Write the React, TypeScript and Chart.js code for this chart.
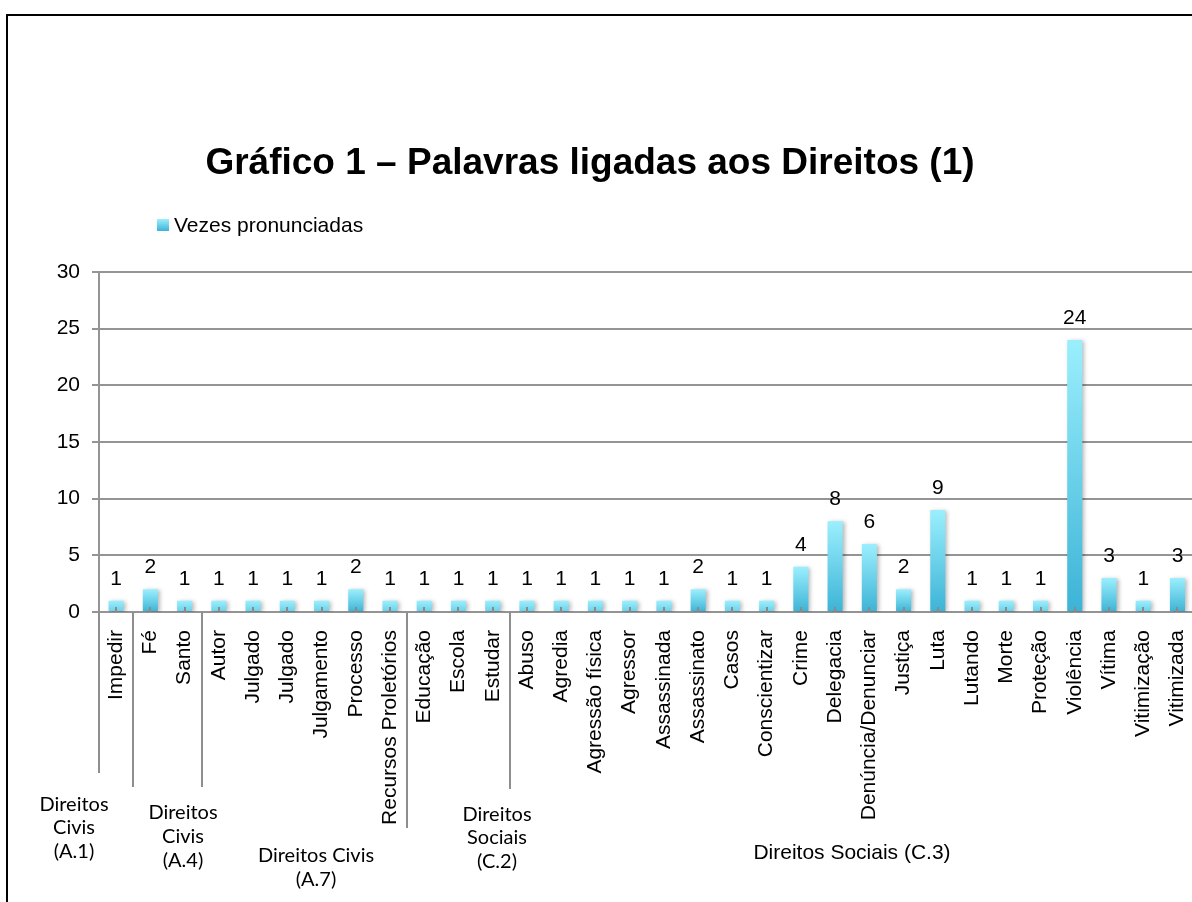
import React, { useEffect, useRef } from "react";
import { Chart, registerables } from "chart.js";

Chart.register(...registerables);

const TITLE = "Gráfico 1 – Palavras ligadas aos Direitos (1)";
const SERIES_NAME = "Vezes pronunciadas";

const categories = [
  "Impedir", "Fé", "Santo", "Autor", "Julgado", "Julgado", "Julgamento", "Processo",
  "Recursos Proletórios", "Educação", "Escola", "Estudar", "Abuso", "Agredia",
  "Agressão física", "Agressor", "Assassinada", "Assassinato", "Casos", "Conscientizar",
  "Crime", "Delegacia", "Denúncia/Denunciar", "Justiça", "Luta", "Lutando", "Morte",
  "Proteção", "Violência", "Vítima", "Vitimização", "Vitimizada",
];

const values = [
  1, 2, 1, 1, 1, 1, 1, 2, 1, 1, 1, 1, 1, 1, 1, 1, 1, 2, 1, 1,
  4, 8, 6, 2, 9, 1, 1, 1, 24, 3, 1, 3,
];

const yTicks = [0, 5, 10, 15, 20, 25, 30];

// category groups (start index of each group)
const groupStarts = [0, 1, 3, 9, 12];
const groupLabels = [
  ["Direitos", "Civis", "(A.1)"],
  ["Direitos", "Civis", "(A.4)"],
  ["Direitos Civis", "(A.7)"],
  ["Direitos", "Sociais", "(C.2)"],
  ["Direitos Sociais (C.3)"],
];

// layout / style (not data)
const SEP_BOTTOMS = [773, 787, 787, 828, 789];
const GROUP_LABEL_LAYOUT = [
  { x: 74, y: [805, 828, 852], font: "20px Lato, 'Open Sans', sans-serif" },
  { x: 183, y: [813, 837, 861], font: "20px Lato, 'Open Sans', sans-serif" },
  { x: 316, y: [856, 880], font: "20px Lato, 'Open Sans', sans-serif" },
  { x: 497, y: [815, 838, 862], font: "20px Lato, 'Open Sans', sans-serif" },
  { x: 852, y: [853], font: "21px 'Liberation Sans', Arial, sans-serif" },
];

const FONT = "'Liberation Sans', Arial, Helvetica, sans-serif";
const GRID = "#949494";
const LIGHT = "#9BEFFD";
const DARK = "#3CB3D6";

function mix(a: string, b: string, t: number) {
  const pa = [1, 3, 5].map((i) => parseInt(a.slice(i, i + 2), 16));
  const pb = [1, 3, 5].map((i) => parseInt(b.slice(i, i + 2), 16));
  const c = pa.map((v, i) => Math.round(v + (pb[i] - v) * t));
  return `rgb(${c[0]},${c[1]},${c[2]})`;
}

const decorPlugin = {
  id: "decor",
  beforeDatasetsDraw(chart: any) {
    const ctx = chart.ctx;
    ctx.save();
    ctx.shadowColor = "rgba(0,0,0,0.28)";
    ctx.shadowBlur = 4;
    ctx.shadowOffsetX = 2;
    ctx.shadowOffsetY = 1;
  },
  afterDatasetsDraw(chart: any) {
    const ctx = chart.ctx;
    ctx.restore();
    const xs = chart.scales.x;
    const ys = chart.scales.y;
    const base = ys.getPixelForValue(0);

    // center marks
    ctx.save();
    ctx.strokeStyle = "#8a8a8a";
    ctx.lineWidth = 2;
    categories.forEach((_, i) => {
      const x = Math.round(xs.getPixelForValue(i));
      ctx.beginPath();
      ctx.moveTo(x, base - 5);
      ctx.lineTo(x, base);
      ctx.stroke();
    });
    ctx.restore();

    // data labels
    ctx.save();
    ctx.fillStyle = "#000";
    ctx.font = `21px ${FONT}`;
    ctx.textAlign = "center";
    ctx.textBaseline = "alphabetic";
    values.forEach((v, i) => {
      const x = xs.getPixelForValue(i);
      const y = ys.getPixelForValue(v);
      ctx.fillText(String(v), x, y - 16);
    });
    ctx.restore();
  },
  afterDraw(chart: any) {
    const ctx = chart.ctx;
    const xs = chart.scales.x;
    const ys = chart.scales.y;
    const base = ys.getPixelForValue(0);

    // title
    ctx.save();
    ctx.fillStyle = "#000";
    ctx.font = `bold 37px ${FONT}`;
    ctx.textAlign = "center";
    ctx.textBaseline = "alphabetic";
    ctx.fillText(TITLE, 590, 174);

    // legend
    const g = ctx.createLinearGradient(0, 219, 0, 231);
    g.addColorStop(0, LIGHT);
    g.addColorStop(1, DARK);
    ctx.fillStyle = g;
    ctx.fillRect(157, 219, 12, 12);
    ctx.fillStyle = "#000";
    ctx.font = `21px ${FONT}`;
    ctx.textAlign = "left";
    ctx.fillText(SERIES_NAME, 174, 232);
    ctx.restore();

    // group separators
    ctx.save();
    ctx.strokeStyle = "#8e8e8e";
    ctx.lineWidth = 2;
    groupStarts.forEach((s, k) => {
      const x = Math.round(xs.getPixelForValue(s - 0.5));
      ctx.beginPath();
      ctx.moveTo(x, base);
      ctx.lineTo(x, SEP_BOTTOMS[k]);
      ctx.stroke();
    });
    ctx.restore();

    // group labels
    ctx.save();
    ctx.fillStyle = "#000";
    ctx.textAlign = "center";
    ctx.textBaseline = "middle";
    groupLabels.forEach((lines, k) => {
      const L = GROUP_LABEL_LAYOUT[k];
      ctx.font = L.font;
      lines.forEach((t, j) => ctx.fillText(t, L.x, L.y[j]));
    });
    ctx.restore();
  },
};

export default function App() {
  const ref = useRef<HTMLCanvasElement | null>(null);

  useEffect(() => {
    if (!ref.current) return;
    const chart = new Chart(ref.current, {
      type: "bar",
      data: {
        labels: categories,
        datasets: [
          {
            label: SERIES_NAME,
            data: values,
            borderWidth: 0,
            barPercentage: 0.44,
            categoryPercentage: 1,
            backgroundColor: (c: any) => {
              const chart = c.chart;
              if (!chart.chartArea || c.type !== "data") return LIGHT;
              const ys = chart.scales.y;
              const v = c.raw as number;
              const top = ys.getPixelForValue(v);
              const bottom = ys.getPixelForValue(0);
              const h = bottom - top;
              const grad = chart.ctx.createLinearGradient(0, top, 0, bottom);
              grad.addColorStop(0, LIGHT);
              grad.addColorStop(1, mix(LIGHT, DARK, Math.min(1, h / 22)));
              return grad;
            },
          },
        ],
      },
      options: {
        responsive: false,
        animation: false,
        devicePixelRatio: 1,
        layout: { padding: { top: 272, right: 5.4, bottom: 0, left: 0 } },
        plugins: {
          legend: { display: false },
          title: { display: false },
          tooltip: { enabled: false },
        },
        scales: {
          x: {
            type: "category",
            offset: true,
            grid: { display: false, drawTicks: false },
            border: { display: true, color: GRID, width: 2 },
            ticks: {
              autoSkip: false,
              maxRotation: 90,
              minRotation: 90,
              padding: 18,
              color: "#000",
              font: { family: FONT, size: 21 },
            },
            afterFit: (s: any) => {
              s.height = 290;
              s.paddingLeft = 0;
              s.paddingRight = 0;
            },
          },
          y: {
            min: 0,
            max: 30,
            afterBuildTicks: (s: any) => {
              s.ticks = yTicks.map((v) => ({ value: v }));
            },
            grid: { color: GRID, lineWidth: 2, tickLength: 7 },
            border: { display: true, color: GRID, width: 2 },
            ticks: {
              padding: 12,
              color: "#000",
              font: { family: FONT, size: 21 },
            },
            afterFit: (s: any) => {
              s.width = 99;
            },
          },
        },
      },
      plugins: [decorPlugin],
    });
    return () => chart.destroy();
  }, []);

  return (
    <div
      style={{
        position: "absolute",
        left: 0,
        top: 0,
        width: 1192,
        height: 902,
        overflow: "hidden",
        background: "#fff",
      }}
    >
      <canvas ref={ref} width={1200} height={902} style={{ display: "block" }} />
      <div
        style={{
          position: "absolute",
          left: 6,
          top: 14,
          width: 1200,
          height: 900,
          borderLeft: "2px solid #000",
          borderTop: "2px solid #000",
          pointerEvents: "none",
        }}
      />
    </div>
  );
}
